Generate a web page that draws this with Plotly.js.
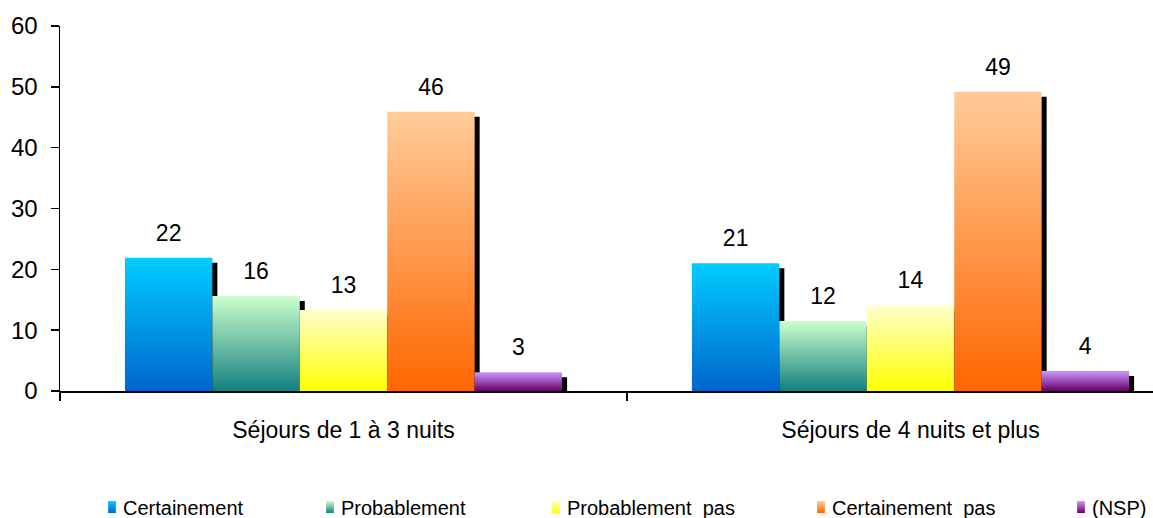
<!DOCTYPE html>
<html>
<head>
<meta charset="utf-8">
<script src="https://cdn.plot.ly/plotly-3.0.1.min.js"></script>
<style>
  html, body { margin: 0; padding: 0; background: #fff; overflow: hidden; }
  #chart { width: 1153px; height: 518px; }
  .barlayer path { filter: drop-shadow(5px 5px 0.5px #000); }
  .barlayer text.bartext { translate: 0 -9px; }
  path[style*="rgb(0, 153, 230)"] { fill: url(#g0) !important; }
  path[style*="rgb(100, 180, 160)"] { fill: url(#g1) !important; }
  path[style*="rgb(255, 255, 100)"] { fill: url(#g2) !important; }
  path[style*="rgb(255, 140, 70)"] { fill: url(#g3) !important; }
  path[style*="rgb(160, 90, 190)"] { fill: url(#g4) !important; }
  .legendpoints { translate: 16px 0; }
  .legendpoints path { scale: 0.65 1; }
</style>
</head>
<body>
<svg width="0" height="0" style="position:absolute">
  <defs>
    <linearGradient id="g0" x1="0" y1="0" x2="0" y2="1"><stop offset="0" stop-color="#00CCFF"/><stop offset="1" stop-color="#0066CC"/></linearGradient>
    <linearGradient id="g1" x1="0" y1="0" x2="0" y2="1"><stop offset="0" stop-color="#CCFFCC"/><stop offset="1" stop-color="#128080"/></linearGradient>
    <linearGradient id="g2" x1="0" y1="0" x2="0" y2="1"><stop offset="0" stop-color="#FFFFCC"/><stop offset="1" stop-color="#FFFF00"/></linearGradient>
    <linearGradient id="g3" x1="0" y1="0" x2="0" y2="1"><stop offset="0" stop-color="#FFCC99"/><stop offset="1" stop-color="#FF6600"/></linearGradient>
    <linearGradient id="g4" x1="0" y1="0" x2="0" y2="1"><stop offset="0" stop-color="#CC99FF"/><stop offset="1" stop-color="#660066"/></linearGradient>
  </defs>
</svg>
<div id="chart"></div>
<script>
// ---- data ----
const categories = ["Séjours de 1 à 3 nuits", "Séjours de 4 nuits et plus"];
const seriesNames = ["Certainement", "Probablement", "Probablement  pas", "Certainement  pas", "(NSP)"];
const certainement = [21.9, 21.0];
const probablement = [15.6, 11.5];
const probablementPas = [13.3, 14.1];
const certainementPas = [45.9, 49.2];
const nsp = [3.1, 3.3];
const labelsCertainement = ["22", "21"];
const labelsProbablement = ["16", "12"];
const labelsProbablementPas = ["13", "14"];
const labelsCertainementPas = ["46", "49"];
const labelsNsp = ["3", "4"];
const yTickValues = [0, 10, 20, 30, 40, 50, 60];

// ---- styling ----
const FONT = "Liberation Sans, Arial, sans-serif";
const baseColors = ["rgb(0, 153, 230)", "rgb(100, 180, 160)", "rgb(255, 255, 100)", "rgb(255, 140, 70)", "rgb(160, 90, 190)"];
const legendIds = ["legend", "legend2", "legend3", "legend4", "legend5"];
const legendTextStartPx = [123, 341, 567, 832, 1092];
const ML = 60, MT = 26, W = 1153, H = 518, MB = 127;
const plotW = W - ML;
const plotH = H - MT - MB;

const values = [certainement, probablement, probablementPas, certainementPas, nsp];
const labels = [labelsCertainement, labelsProbablement, labelsProbablementPas, labelsCertainementPas, labelsNsp];

const traces = values.map((v, i) => ({
  type: "bar",
  name: seriesNames[i],
  x: categories,
  y: v,
  text: labels[i],
  textposition: "outside",
  textfont: { family: FONT, size: 23, color: "#000" },
  cliponaxis: true,
  marker: { color: baseColors[i], line: { width: 0 } },
  legend: legendIds[i],
  showlegend: true,
  hoverinfo: "skip"
}));

const layout = {
  width: W, height: H,
  showlegend: true,
  margin: { l: ML, r: 0, t: MT, b: MB, pad: 0, autoexpand: false },
  paper_bgcolor: "#fff",
  plot_bgcolor: "#fff",
  barmode: "group",
  bargap: 0.229,
  bargroupgap: 0,
  hovermode: false,
  font: { family: FONT, color: "#000" },
  xaxis: {
    type: "category",
    range: [-0.5, -0.5 + plotW / 567],
    showline: true, linecolor: "#000", linewidth: 1.5,
    ticks: "outside", ticklen: 8, tickwidth: 1.5, tickcolor: "#000",
    tickson: "boundaries",
    showgrid: false, zeroline: false,
    automargin: false,
    tickfont: { family: FONT, size: 23, color: "#000" },
    ticklabelstandoff: 18
  },
  yaxis: {
    range: [0, 60],
    tickvals: yTickValues,
    showline: true, linecolor: "#000", linewidth: 1.5,
    ticks: "outside", ticklen: 8, tickwidth: 1.5, tickcolor: "#000",
    showgrid: false, zeroline: false,
    automargin: false,
    tickfont: { family: FONT, size: 24, color: "#000" },
    ticklabelstandoff: 8
  }
};

legendIds.forEach((id, i) => {
  layout[id] = {
    visible: true,
    orientation: "h",
    x: (legendTextStartPx[i] - 40 - ML) / plotW,
    xanchor: "left",
    y: -(507 - (MT + plotH)) / plotH,
    yanchor: "middle",
    bgcolor: "rgba(0,0,0,0)",
    borderwidth: 0,
    maxheight: 200,
    font: { family: FONT, size: 20, color: "#000" },
    itemwidth: 30
  };
});

Plotly.newPlot("chart", traces, layout, { displayModeBar: false, staticPlot: true });
</script>
</body>
</html>
